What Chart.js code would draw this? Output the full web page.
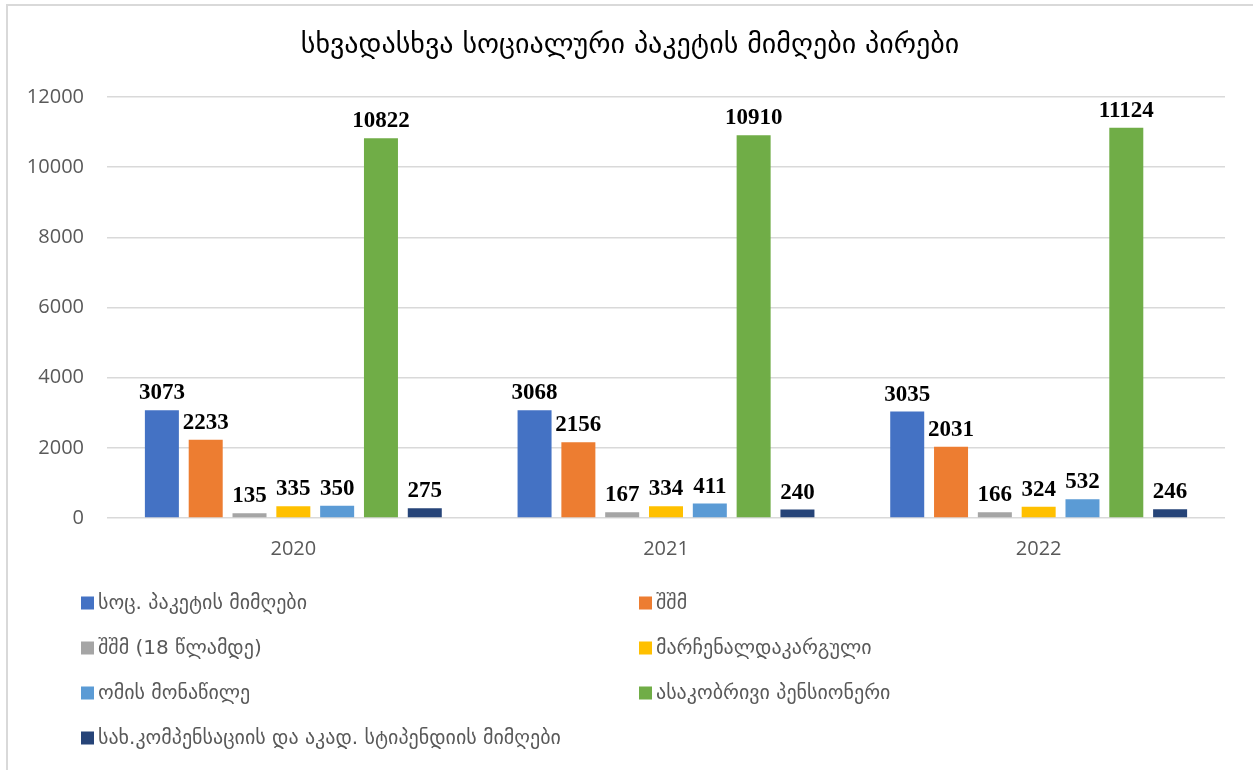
<!DOCTYPE html>
<html>
<head>
<meta charset="utf-8">
<script src="https://cdn.jsdelivr.net/npm/chart.js@4/dist/chart.umd.min.js"></script>
<style>
html,body{margin:0;padding:0;background:#fff;}
#wrap{width:1253px;height:770px;position:relative;}
</style>
</head>
<body>
<div id="wrap"><canvas id="c" width="1253" height="770"></canvas></div>
<script>
const title = "სხვადასხვა სოციალური პაკეტის მიმღები პირები";
const categories = ["2020", "2021", "2022"];
const seriesNames = [
  "სოც. პაკეტის მიმღები",
  "შშმ",
  "შშმ (18 წლამდე)",
  "მარჩენალდაკარგული",
  "ომის მონაწილე",
  "ასაკობრივი პენსიონერი",
  "სახ.კომპენსაციის და აკად. სტიპენდიის მიმღები"
];
const socPackage = [3073, 3068, 3035];
const disabled = [2233, 2156, 2031];
const disabledUnder18 = [135, 167, 166];
const lostBreadwinner = [335, 334, 324];
const warParticipant = [350, 411, 532];
const agePensioner = [10822, 10910, 11124];
const compensation = [275, 240, 246];
const seriesValues = [socPackage, disabled, disabledUnder18, lostBreadwinner, warParticipant, agePensioner, compensation];
const seriesColors = ["#4472C4", "#ED7D31", "#A5A5A5", "#FFC000", "#5B9BD5", "#70AD47", "#264478"];
const yTicks = [0, 2000, 4000, 6000, 8000, 10000, 12000];

const GEO_FONT = "'DejaVu Sans', 'Noto Sans', sans-serif";

const framePlugin = {
  id: 'frame',
  beforeDraw(chart) {
    const ctx = chart.ctx;
    ctx.save();
    ctx.fillStyle = '#ffffff';
    ctx.fillRect(0, 0, chart.width, chart.height);
    ctx.strokeStyle = '#d9d9d9';
    ctx.lineWidth = 2;
    ctx.beginPath();
    ctx.moveTo(7, chart.height);
    ctx.lineTo(7, 5);
    ctx.lineTo(chart.width, 5);
    ctx.stroke();
    ctx.restore();
  }
};

const titlePlugin = {
  id: 'customTitle',
  afterDraw(chart) {
    const ctx = chart.ctx;
    ctx.save();
    ctx.font = "28px " + GEO_FONT;
    ctx.fillStyle = '#000000';
    ctx.textAlign = 'center';
    ctx.textBaseline = 'middle';
    ctx.fillText(title, 630, 46);
    ctx.restore();
  }
};

const labelPlugin = {
  id: 'valueLabels',
  afterDatasetsDraw(chart) {
    const ctx = chart.ctx;
    ctx.save();
    ctx.font = "bold 23px 'Liberation Serif', 'Times New Roman', serif";
    ctx.fillStyle = '#000000';
    ctx.textAlign = 'center';
    ctx.textBaseline = 'alphabetic';
    chart.data.datasets.forEach((ds, di) => {
      const meta = chart.getDatasetMeta(di);
      meta.data.forEach((bar, i) => {
        ctx.fillText(String(ds.data[i]), bar.x, bar.y - 11);
      });
    });
    ctx.restore();
  }
};

const legendPlugin = {
  id: 'gridLegend',
  afterDraw(chart) {
    const ctx = chart.ctx;
    ctx.save();
    ctx.font = "20px " + GEO_FONT;
    ctx.textBaseline = 'middle';
    ctx.textAlign = 'left';
    const colX = [81, 639];
    const rowY0 = 603, rowStep = 45, box = 13;
    chart.data.datasets.forEach((ds, i) => {
      const col = i % 2, row = Math.floor(i / 2);
      const x = colX[col], y = rowY0 + row * rowStep;
      ctx.fillStyle = ds.backgroundColor;
      ctx.fillRect(x, y - box / 2, box, box);
      ctx.fillStyle = '#595959';
      ctx.fillText(ds.label, x + box + 4, y + 1);
    });
    ctx.restore();
  }
};

const datasets = seriesNames.map((name, i) => ({
  label: name,
  data: seriesValues[i],
  backgroundColor: seriesColors[i],
  borderWidth: 0,
  categoryPercentage: 0.823,
  barPercentage: 0.776
}));

new Chart(document.getElementById('c'), {
  type: 'bar',
  data: { labels: categories, datasets },
  options: {
    responsive: false,
    animation: false,
    layout: { padding: { top: 97, right: 28, bottom: 202, left: 0 } },
    plugins: {
      legend: { display: false },
      title: { display: false },
      tooltip: { enabled: false }
    },
    scales: {
      x: {
        grid: { display: false, drawTicks: false },
        border: { display: false },
        ticks: {
          color: '#595959',
          font: { family: "'Open Sans', sans-serif", size: 20 },
          padding: 19
        },
        afterFit(s) { s.height = 50; }
      },
      y: {
        min: 0,
        max: 12000,
        afterBuildTicks(s) { s.ticks = yTicks.map(v => ({ value: v })); },
        grid: { color: '#d9d9d9', lineWidth: 1.5, drawTicks: false },
        border: { display: false },
        ticks: {
          color: '#595959',
          font: { family: "'Open Sans', sans-serif", size: 20 },
          padding: 23,
          callback: (v) => String(v)
        },
        afterFit(s) { s.width = 107; }
      }
    }
  },
  plugins: [framePlugin, titlePlugin, labelPlugin, legendPlugin]
});
</script>
</body>
</html>
